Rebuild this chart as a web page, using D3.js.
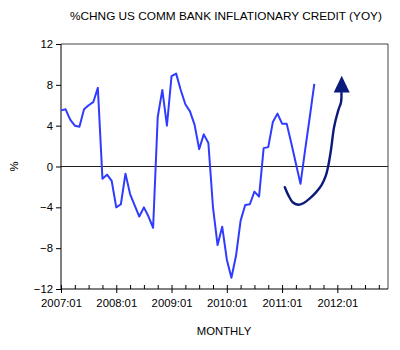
<!DOCTYPE html>
<html>
<head>
<meta charset="utf-8">
<script src="https://cdn.jsdelivr.net/npm/d3@7"></script>
<style>
  html, body { margin: 0; padding: 0; background: #fff; }
  svg { display: block; font-family: "Liberation Sans", Arial, sans-serif; }
</style>
</head>
<body>
<svg id="chart" width="400" height="350"></svg>
<script>
// Monthly series, first observation 2007:01 (month index 0)
const creditYoY = [
  5.5, 5.6, 4.6, 4.0, 3.9, 5.6, 6.0, 6.3, 7.7, -1.2, -0.8, -1.4,
  -4.0, -3.7, -0.7, -2.7, -3.8, -4.9, -4.0, -4.9, -6.0, 4.85, 7.5, 4.0,
  8.85, 9.1, 7.5, 6.1, 5.4, 4.1, 1.7, 3.15, 2.3, -4.0, -7.7, -5.9,
  -9.1, -10.9, -8.75, -5.3, -3.77, -3.7, -2.46, -2.95, 1.8, 1.9, 4.36, 5.18,
  4.2, 4.2, 2.3, 0.3, -1.7, 1.6, 4.8, 8.1
];

// Hand-drawn projection path (month index, % value) ending in an arrow
const projMonths = [48.6, 49.4, 50.3, 51.5, 52.6, 54.1, 55.5, 56.6, 57.5, 58.0, 58.6, 59.3, 60.2, 60.8, 60.9];
const projValues = [-2.03, -2.85, -3.5, -3.74, -3.6, -3.1, -2.46, -1.8, -0.9, 0.0, 1.57, 3.87, 5.5, 6.3, 7.2];
const arrowTip = { month: 60.95, value: 8.9, base: 7.25 };

// Axis definitions
const yTicks = [-12, -8, -4, 0, 4, 8, 12];
const yearLabels = ["2007:01", "2008:01", "2009:01", "2010:01", "2011:01", "2012:01"];
const lastMonth = 71; // 2012:12

const title = "%CHNG US COMM BANK INFLATIONARY CREDIT (YOY)";
const xTitle = "MONTHLY";
const yTitle = "%";

const svg = d3.select("#chart");
const plot = { left: 61, right: 388, top: 44, bottom: 289 };
const tickFont = 11.3;

const x = d3.scaleLinear().domain([0, lastMonth]).range([plot.left, plot.right]);
const y = d3.scaleLinear().domain([-12, 12]).range([plot.bottom, plot.top]);

// Title
svg.append("text")
  .attr("x", 226).attr("y", 20)
  .attr("text-anchor", "middle")
  .attr("font-size", 11.8)
  .attr("fill", "#000")
  .text(title);

// Frame: top and right edges
svg.append("path")
  .attr("d", `M${plot.left},${plot.top}H${plot.right}V${plot.bottom}`)
  .attr("fill", "none").attr("stroke", "#444").attr("stroke-width", 1);

// Zero line
svg.append("line")
  .attr("x1", plot.left).attr("x2", plot.right)
  .attr("y1", y(0)).attr("y2", y(0))
  .attr("stroke", "#222").attr("stroke-width", 1);

// Y axis
const yAxis = svg.append("g")
  .attr("transform", `translate(${plot.left},0)`)
  .call(d3.axisLeft(y).tickValues(yTicks).tickSize(5).tickPadding(3).tickFormat(d3.format("d")));
yAxis.select(".domain").remove();
yAxis.selectAll("text").attr("font-size", tickFont).attr("font-family", "Liberation Sans, Arial, sans-serif").attr("fill", "#000");
yAxis.selectAll("line").attr("stroke", "#000");
svg.append("line")
  .attr("x1", plot.left).attr("x2", plot.left)
  .attr("y1", plot.top).attr("y2", plot.bottom)
  .attr("stroke", "#000");

// X axis: quarterly ticks pointing up, year ticks crossing the axis
const quarterTicks = d3.range(0, lastMonth, 3);
const xAxis = svg.append("g")
  .attr("transform", `translate(0,${plot.bottom})`)
  .call(d3.axisBottom(x).tickValues(quarterTicks).tickSize(-4).tickPadding(10)
    .tickFormat(m => m % 12 === 0 ? yearLabels[m / 12] : ""));
xAxis.select(".domain").remove();
xAxis.selectAll("text").attr("font-size", tickFont).attr("font-family", "Liberation Sans, Arial, sans-serif").attr("fill", "#000");
xAxis.selectAll("line").attr("stroke", "#000");
xAxis.selectAll(".tick").filter(m => m % 12 === 0).select("line")
  .attr("y1", 4).attr("y2", -4);
svg.append("line")
  .attr("x1", plot.left).attr("x2", plot.right)
  .attr("y1", plot.bottom).attr("y2", plot.bottom)
  .attr("stroke", "#000");

// Axis titles
svg.append("text")
  .attr("x", 224).attr("y", 335)
  .attr("text-anchor", "middle").attr("font-size", tickFont)
  .text(xTitle);
svg.append("text")
  .attr("transform", `translate(18,${y(0)}) rotate(-90)`)
  .attr("text-anchor", "middle").attr("font-size", tickFont)
  .text(yTitle);

// Main series
const line = d3.line().x((d, i) => x(i)).y(d => y(d));
svg.append("path")
  .datum(creditYoY)
  .attr("d", line)
  .attr("fill", "none")
  .attr("stroke", "#2f3cff")
  .attr("stroke-width", 2)
  .attr("stroke-linejoin", "round");

// Projection curve
const proj = projMonths.map((m, i) => [m, projValues[i]]);
svg.append("path")
  .datum(proj)
  .attr("d", d3.line().x(d => x(d[0])).y(d => y(d[1])).curve(d3.curveCatmullRom))
  .attr("fill", "none")
  .attr("stroke", "#0b1a7c")
  .attr("stroke-width", 2.4)
  .attr("stroke-linecap", "round");

// Arrowhead
const tipX = x(arrowTip.month);
svg.append("path")
  .attr("d", `M${tipX},${y(arrowTip.value)}L${tipX + 8},${y(arrowTip.base)}L${tipX - 8},${y(arrowTip.base)}Z`)
  .attr("fill", "#0b1a7c");
</script>
</body>
</html>
